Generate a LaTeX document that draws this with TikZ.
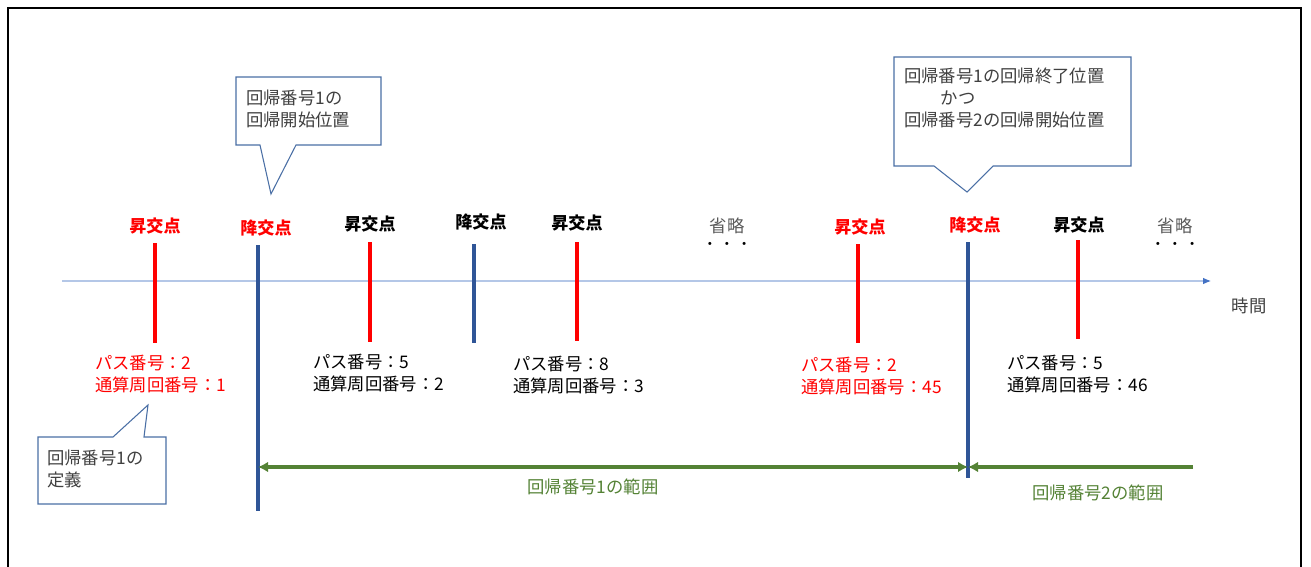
\documentclass[tikz,border=0pt]{standalone}
\usepackage{fontspec}
\setmainfont{Noto Sans CJK JP}
\usetikzlibrary{arrows.meta}
\definecolor{rot}{HTML}{FF0000}
\definecolor{blau}{HTML}{2F5597}
\definecolor{gruen}{HTML}{548235}
\definecolor{rahmenblau}{HTML}{4A6FA5}
\definecolor{achse}{HTML}{B4C7E7}
\definecolor{achsspitze}{HTML}{4472C4}
\definecolor{textgrau}{HTML}{404040}
\definecolor{grau}{HTML}{595959}
\begin{document}
\begin{tikzpicture}[x=0.75pt, y=-0.75pt,
		>={Latex[length=7.5pt,width=8pt]},   %Pfeilspitzen
		font=\fontsize{13}{16.5}\selectfont,
		strich/.style={line width=2.6pt, draw=#1},
		knoten/.style={font=\fontsize{12.8}{15}\selectfont\bfseries, text=#1, inner sep=0pt},
		info/.style={align=left, anchor=west, inner sep=0pt, text=#1},
		blase/.style={draw=rahmenblau, fill=white, line width=0.8pt, line join=miter},
		blasentext/.style={align=left, anchor=north west, inner sep=0pt, text=textgrau},
		bereich/.style={line width=2.6pt, draw=gruen, fill=gruen}]
	\useasboundingbox (0,0) rectangle (1311,567);
	% Rahmen
	\draw[line width=1.6pt] (8,575) -- (8,8) -- (1301,8) -- (1301,575);
	% Zeitachse
	\draw[achse, line width=0.8pt, -{Latex[length=6pt,width=5pt,color=achsspitze]}] (62,281) -- (1211,281);
	\node[text=textgrau, inner sep=0pt] (zeit) at (1249,306) {時間};
	% Knotenlinien
	\foreach \x/\t/\b/\c in {155/243/343/rot, 370/242/342/rot, 474/244/343/blau,
		577/242/341/rot, 858/244/343/rot, 1078/240/339/rot}
		\draw[strich=\c] (\x,\t) -- (\x,\b);
	\coordinate (ab1) at (258,245);
	\coordinate (ab2) at (968,242);
	\draw[strich=blau] (ab1) -- (258,511);
	\draw[strich=blau] (ab2) -- (968,478);
	% Knoten beschriften
	\node[knoten=rot]   (auf1) at (155,226) {昇交点};
	\node[knoten=rot]   (ab1l) at (266,228) {降交点};
	\node[knoten=black] (auf2) at (370,224) {昇交点};
	\node[knoten=black] (ab2l) at (481,222) {降交点};
	\node[knoten=black] (auf3) at (577,223) {昇交点};
	\node[knoten=rot]   (auf4) at (860,227) {昇交点};
	\node[knoten=rot]   (ab3l) at (975,225) {降交点};
	\node[knoten=black] (auf5) at (1079,225) {昇交点};
	% Auslassungen
	\foreach \x/\n in {727/om1, 1175/om2} {
		\node[text=grau, inner sep=0pt] (\n) at (\x,226) {省略};
		\node[inner sep=0pt, font=\fontsize{11}{11}\selectfont] at (\x,246) {・\,・\,・};
	}
	% Pass- und Umlaufnummern
	\node[info=rot]   (pass1) at (95,374)   {パス番号：2\\通算周回番号：1};
	\node[info=black] (pass2) at (313,373)  {パス番号：5\\通算周回番号：2};
	\node[info=black] (pass3) at (513,375)  {パス番号：8\\通算周回番号：3};
	\node[info=rot]   (pass4) at (801,376)  {パス番号：2\\通算周回番号：45};
	\node[info=black] (pass5) at (1007,374) {パス番号：5\\通算周回番号：46};
	% Bereiche
	\coordinate (b1) at (258,467);
	\coordinate (b2) at (968,467);
	\coordinate (b3) at (1193,467);
	\draw[bereich, <->] (b1) -- (b2);
	\draw[bereich, ->] (b3) -- (b2);
	\node[text=gruen, inner sep=0pt] (ber1) at (593,487)  {回帰番号1の範囲};
	\node[text=gruen, inner sep=0pt] (ber2) at (1098,493) {回帰番号2の範囲};
	% Sprechblasen
	\draw[blase] (236,77) -- (381,77) -- (381,145) -- (296,145) -- (271,194) -- (260,145) -- (236,145) -- cycle;
	\node[blasentext] (start1) at (246,90) {回帰番号1の\\回帰開始位置};
	\draw[blase] (38,437) -- (113,437) -- (148,405) -- (144,437) -- (166,437) -- (166,504) -- (38,504) -- cycle;
	\node[blasentext] (def1) at (47,450) {回帰番号1の\\定義};
	\draw[blase] (894,57) -- (1131,57) -- (1131,166) -- (993,166) -- (967,192) -- (934,166) -- (894,166) -- cycle;
	\node[blasentext] (ende1) at (904,68) {回帰番号1の回帰終了位置\\\hspace*{2.1em}かつ\\回帰番号2の回帰開始位置};
\end{tikzpicture}
\end{document}
